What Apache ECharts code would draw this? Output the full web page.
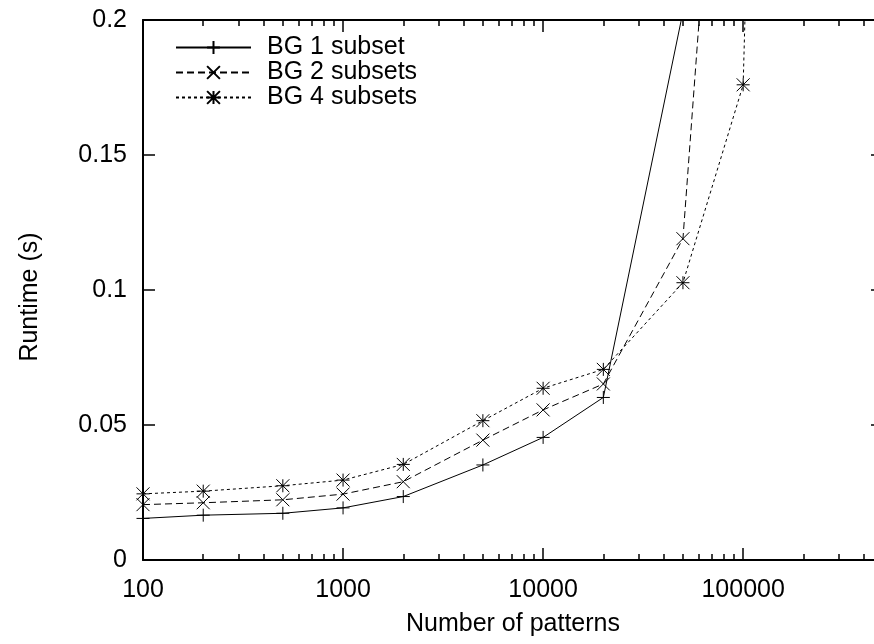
<!DOCTYPE html>
<html>
<head>
<meta charset="utf-8">
<script src="https://cdn.jsdelivr.net/npm/echarts@6/dist/echarts.min.js"></script>
<style>
html,body{margin:0;padding:0;background:#fff;}
#chart{width:874px;height:644px;}
</style>
</head>
<body>
<div id="chart"></div>
<script>
// ---- data ----
var seriesNames = ['BG 1 subset', 'BG 2 subsets', 'BG 4 subsets'];
var patternsBG1 = [100, 200, 500, 1000, 2000, 5000, 10000, 20000, 50000];
var runtimeBG1  = [0.0154, 0.0166, 0.0173, 0.0193, 0.0235, 0.0352, 0.0454, 0.0602, 0.203];
var patternsBG2 = [100, 200, 500, 1000, 2000, 5000, 10000, 20000, 50000, 100000];
var runtimeBG2  = [0.0205, 0.0212, 0.0223, 0.0244, 0.029, 0.0444, 0.0556, 0.0652, 0.119, 0.42];
var patternsBG4 = [100, 200, 500, 1000, 2000, 5000, 10000, 20000, 50000, 100000, 200000];
var runtimeBG4  = [0.0245, 0.0255, 0.0275, 0.0296, 0.0354, 0.0516, 0.0636, 0.0706, 0.1027, 0.176, 1.0];
var xMajorTicks = [100, 1000, 10000, 100000];
var xMinorTicks = [200,300,400,500,600,700,800,900,
                   2000,3000,4000,5000,6000,7000,8000,9000,
                   20000,30000,40000,50000,60000,70000,80000,90000,
                   200000,300000,400000];
var yTicks = [0, 0.05, 0.1, 0.15, 0.2];

function pairs(xs, ys){ return xs.map(function(x,i){ return [x, ys[i]]; }); }

var FONT = 'Liberation Sans';
var FS = 25;
var symPlus  = 'path://M0,6 L12,6 M6,0 L6,12';
var symCross = 'path://M0,0 L12,12 M12,0 L0,12';
var symStar  = 'path://M0,6 L12,6 M6,0 L6,12 M0,0 L12,12 M12,0 L0,12';

var chart = echarts.init(document.getElementById('chart'), null, {renderer:'canvas'});

function xAx(pos, major, extra){
  var a = {
    type: 'log', logBase: 10, position: pos, min: 100, max: 500000,
    gridIndex: 0,
    splitLine: {show:false},
    axisLine: {show: major, lineStyle:{color:'#000', width:2}},
    axisTick: major
      ? {show:true, inside:true, length:12, lineStyle:{color:'#000', width:1.5}}
      : {show:true, inside:true, length:6, customValues: xMinorTicks, lineStyle:{color:'#000', width:1.5}},
    axisLabel: {show:false}
  };
  if (extra) Object.assign(a, extra);
  return a;
}

var option = {
  animation: false,
  backgroundColor: '#fff',
  textStyle: {fontFamily: FONT},
  grid: {left:143, top:20, width:740, height:540, containLabel:false, outerBoundsMode:'none'},
  legend: {
    orient: 'vertical', left: 175, top: 35, padding: 0, itemGap: 0,
    itemWidth: 75, itemHeight: 16, selectedMode: false,
    data: seriesNames,
    textStyle: {fontFamily: FONT, fontSize: FS, color:'#000', lineHeight: 25, padding:[0,0,0,11]}
  },
  xAxis: [
    xAx('bottom', true, {
      name: 'Number of patterns', nameLocation:'middle', nameGap: 52,
      nameTextStyle: {fontFamily:FONT, fontSize:FS, color:'#000'},
      axisLabel: {show:true, showMaxLabel:false, margin:18, fontFamily:FONT, fontSize:FS, color:'#000',
        formatter: function(v){ return String(Math.round(v)); }}
    }),
    xAx('bottom', false),
    xAx('top', true),
    xAx('top', false)
  ],
  yAxis: [
    {
      type:'value', position:'left', min:0, max:0.2, interval:0.05,
      splitLine:{show:false},
      axisLine:{show:true, lineStyle:{color:'#000', width:2}},
      axisTick:{show:true, inside:true, length:12, lineStyle:{color:'#000', width:1.5}},
      axisLabel:{margin:16, fontFamily:FONT, fontSize:FS, color:'#000'},
      name:'Runtime (s)', nameLocation:'middle', nameGap:100, nameRotate:90,
      nameTextStyle:{fontFamily:FONT, fontSize:FS, color:'#000', padding:[0,14,0,0]}
    },
    {
      type:'value', position:'right', min:0, max:0.2, interval:0.05,
      splitLine:{show:false},
      axisLine:{show:true, lineStyle:{color:'#000', width:2}},
      axisTick:{show:true, inside:true, length:12, lineStyle:{color:'#000', width:1.5}},
      axisLabel:{show:false}
    }
  ],
  series: [
    {
      name: seriesNames[0], type:'line', xAxisIndex:0, yAxisIndex:0,
      data: pairs(patternsBG1, runtimeBG1), clip:true,
      symbol: symPlus, symbolSize: 13, showAllSymbol: true,
      lineStyle:{color:'#000', width:1, type:'solid'},
      itemStyle:{color:'#000', borderColor:'#000', borderWidth:1}
    },
    {
      name: seriesNames[1], type:'line', xAxisIndex:0, yAxisIndex:0,
      data: pairs(patternsBG2, runtimeBG2), clip:true,
      symbol: symCross, symbolSize: 13, showAllSymbol: true,
      lineStyle:{color:'#000', width:1, type:[7,4]},
      itemStyle:{color:'#000', borderColor:'#000', borderWidth:1}
    },
    {
      name: seriesNames[2], type:'line', xAxisIndex:0, yAxisIndex:0,
      data: pairs(patternsBG4, runtimeBG4), clip:true,
      symbol: symStar, symbolSize: 13, showAllSymbol: true,
      lineStyle:{color:'#000', width:1, type:[3,3]},
      itemStyle:{color:'#000', borderColor:'#000', borderWidth:1}
    }
  ]
};
chart.setOption(option);
</script>
</body>
</html>
